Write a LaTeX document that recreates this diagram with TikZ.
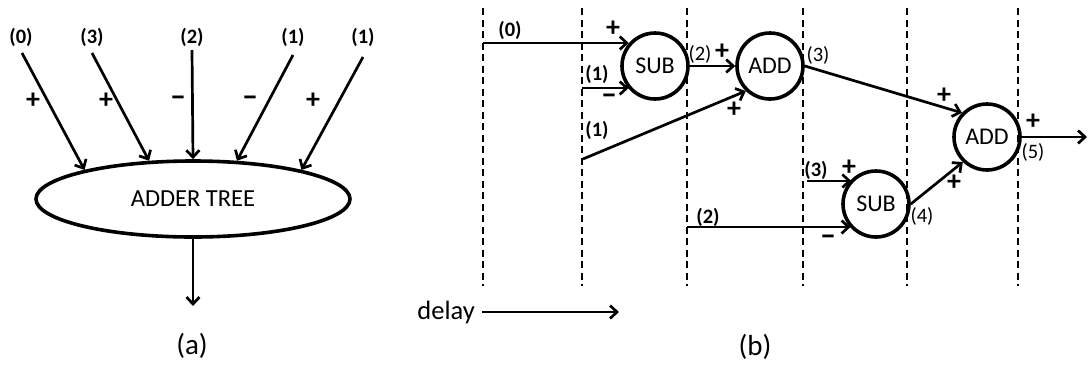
\documentclass[tikz,border=0pt]{standalone}
\usepackage{fontspec}
\setmainfont{Carlito}
\usetikzlibrary{arrows.meta,shapes.geometric}
\begin{document}
\begin{tikzpicture}[x=1pt,y=-1pt,
  conn/.style={line width=2.7pt,-{Straight Barb[length=7pt,width=13pt,line width=2.7pt]}},
  dsh/.style={line width=2.2pt,dash pattern=on 7pt off 4.5pt},
  opnode/.style={circle,draw,line width=3.6pt,minimum size=66pt,inner sep=0pt,font=\fontsize{24}{26}\selectfont},
  treenode/.style={ellipse,draw,line width=3.6pt,minimum width=314pt,minimum height=76pt,inner sep=0pt,font=\fontsize{24.5}{26}\selectfont},
  lblb/.style={inner sep=0pt,font=\fontsize{20.5}{22}\selectfont\bfseries},
  lbl/.style={inner sep=0pt,font=\fontsize{20.5}{22}\selectfont},
  sgn/.style={inner sep=0pt,font=\fontsize{28}{30}\selectfont\bfseries},
  sgnm/.style={inner sep=0pt,font=\fontsize{32}{34}\selectfont\bfseries},
  captionnode/.style={inner sep=0pt,font=\fontsize{29}{31}\selectfont}]
\useasboundingbox (0,0) rectangle (1088,365);

% ---------- (a) ----------
\node[treenode] (tree) at (193,199) {ADDER TREE};
\coordinate (a0) at (22,53);
\coordinate (a3) at (92,53);
\coordinate (a2) at (192,50);
\coordinate (a1) at (293,55);
\coordinate (a1b) at (363,57);
\coordinate (aout) at (193,306);
\draw[conn] (a0) -- (tree.165);
\draw[conn] (a3) -- (tree.139);
\draw[conn] (a2) -- (tree.90);
\draw[conn] (a1) -- (tree.41);
\draw[conn] (a1b) -- (tree.15);
\draw[conn] (tree.south) -- (aout);
\node[lblb] (ta0) at (21,37) {(0)};
\node[lblb] (ta3) at (92,37) {(3)};
\node[lblb] (ta2) at (192,37) {(2)};
\node[lblb] (ta1) at (293,37) {(1)};
\node[lblb] (ta1b) at (363,37) {(1)};
\node[sgn] (sa0) at (33,101) {+};
\node[sgn] (sa3) at (106,101) {+};
\node[sgnm] (sa2) at (178,101) {–};
\node[sgnm] (sa1) at (250,101) {–};
\node[sgn] (sa1b) at (313,101) {+};
\node[captionnode] (capa) at (192,346) {(a)};

% ---------- (b) ----------
\foreach \x in {483,582,687,803,907,1018}
  \draw[dsh] (\x,8) -- (\x,286);

\node[opnode] (sub1) at (655,66) {SUB};
\node[opnode] (add1) at (770,66) {ADD};
\node[opnode] (sub2) at (876,204) {SUB};
\node[opnode] (add2) at (987,137) {ADD};

\coordinate (c0) at (483,43);
\coordinate (c1) at (582,88);
\coordinate (c1b) at (583,159);
\coordinate (c3) at (807,181);
\coordinate (c2) at (687,227);
\coordinate (cout) at (1087,137);

\draw[conn] (c0) -- (c0 -| sub1.139);
\draw[conn] (c1) -- (c1 -| sub1.221);
\draw[conn] (c1b) -- (add1.226);
\draw[conn] (sub1.east) -- (add1.west);
\draw[conn] (add1.east) -- (add2.136);
\draw[conn] (c3) -- (c3 -| sub2.135);
\draw[conn] (c2) -- (c2 -| sub2.223);
\draw[conn] (sub2.east) -- (add2.226);
\draw[conn] (add2.east) -- (cout);

\node[lblb] (tb0) at (510,30) {(0)};
\node[sgn] (sb0) at (613,29) {+};
\node[lblb] (tb1) at (597,74) {(1)};
\node[sgnm] (sb1) at (609,99) {–};
\node[lblb] (tb1b) at (597,130) {(1)};
\node[lbl] (tb2o) at (700,54) {(2)};
\node[sgn] (sb2o) at (722,52) {+};
\node[sgn] (sb1b) at (734,110) {+};
\node[lbl] (tb3o) at (818,55) {(3)};
\node[sgn] (sb3o) at (944,96) {+};
\node[lblb] (tb3) at (816,170) {(3)};
\node[sgn] (sb3) at (849,168) {+};
\node[lblb] (tb2) at (708,217) {(2)};
\node[sgnm] (sb2) at (828,240) {–};
\node[lbl] (tb4) at (922,216) {(4)};
\node[sgn] (sb4) at (954,183) {+};
\node[sgn] (sb5) at (1033,122) {+};
\node[lbl] (tb5) at (1033,152) {(5)};

\node[anchor=east,inner sep=0pt,font=\fontsize{26.5}{28}\selectfont] (delay) at (475,312) {delay};
\coordinate (dend) at (619,312);
\draw[conn] ([xshift=7pt]delay.east |- dend) -- (dend);
\node[captionnode] (capb) at (755,347) {(b)};
\end{tikzpicture}
\end{document}
